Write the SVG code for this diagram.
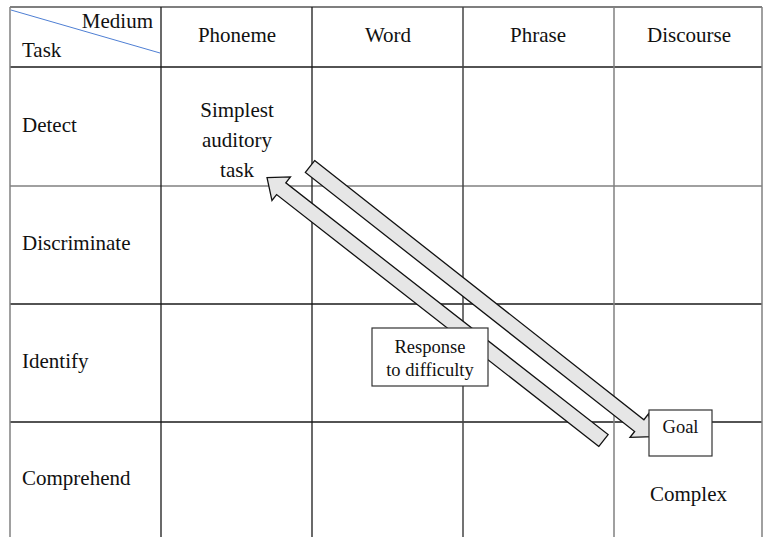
<svg xmlns="http://www.w3.org/2000/svg" width="766" height="537" viewBox="0 0 766 537">
  <style>
    .cell { font-size: 21px; }
    .mid { text-anchor: middle; }
    .box-label { font-size: 18.5px; text-anchor: middle; }
    .grid-dark { stroke: #1a1a1a; stroke-width: 1.3; fill: none; }
    .grid-grey { stroke: #808080; stroke-width: 1.5; fill: none; }
    .arrow { fill: #e6e6e6; stroke: #111; stroke-width: 1.3; stroke-linejoin: miter; }
    .box { fill: #fff; stroke: #333; stroke-width: 1.2; }
  </style>

  <rect width="766" height="537" fill="#fff"/>

  <!-- table grid -->
  <g id="grid">
    <line class="grid-grey" x1="10" y1="7" x2="762" y2="7" style="stroke:#555"/>
    <line class="grid-dark" x1="10" y1="67" x2="762" y2="67"/>
    <line class="grid-grey" x1="10" y1="186" x2="762" y2="186"/>
    <line class="grid-dark" x1="10" y1="304" x2="762" y2="304"/>
    <line class="grid-dark" x1="10" y1="422" x2="762" y2="422"/>
    <line class="grid-grey" x1="10" y1="7" x2="10" y2="537"/>
    <line class="grid-dark" x1="161" y1="7" x2="161" y2="537"/>
    <line class="grid-dark" x1="312" y1="7" x2="312" y2="537"/>
    <line class="grid-grey" x1="463" y1="7" x2="463" y2="537" style="stroke:#444"/>
    <line class="grid-grey" x1="614" y1="7" x2="614" y2="537"/>
    <line class="grid-grey" x1="762" y1="7" x2="762" y2="537"/>
    <!-- corner header split -->
    <line x1="11" y1="10" x2="160" y2="53" stroke="#4f7fd4" stroke-width="1"/>
  </g>

  <g font-family="'Liberation Serif', 'DejaVu Serif', serif" fill="#111">
    <!-- header texts -->
    <g id="header">
      <text class="cell" x="153" y="28" text-anchor="end">Medium</text>
      <text class="cell" x="22" y="57">Task</text>
      <text class="cell mid" x="237" y="42">Phoneme</text>
      <text class="cell mid" x="388" y="42">Word</text>
      <text class="cell mid" x="538" y="42">Phrase</text>
      <text class="cell mid" x="689" y="42">Discourse</text>
    </g>

    <!-- row labels -->
    <g id="rows">
      <text class="cell" x="22" y="132">Detect</text>
      <text class="cell" x="22" y="250">Discriminate</text>
      <text class="cell" x="22" y="368">Identify</text>
      <text class="cell" x="22" y="485">Comprehend</text>
    </g>

    <g id="simplest">
      <text class="cell mid" x="237" y="117">Simplest</text>
      <text class="cell mid" x="237" y="147">auditory</text>
      <text class="cell mid" x="237" y="177">task</text>
    </g>

    <g id="complex">
      <text class="cell" x="650" y="501">Complex</text>
    </g>
  </g>

  <!-- block arrows -->
  <g id="connectors">
    <polygon class="arrow" transform="translate(310,166.5) rotate(38.2)"
             points="0,-7.5 419,-7.5 419,-15 437,0 419,15 419,7.5 0,7.5"/>
    <polygon class="arrow" transform="translate(603.5,440.5) rotate(218)"
             points="0,-7.5 409,-7.5 409,-15 427,0 409,15 409,7.5 0,7.5"/>
  </g>

  <g font-family="'Liberation Serif', 'DejaVu Serif', serif" fill="#111">
    <g id="response">
      <rect class="box" x="372" y="328" width="116" height="58"/>
      <text class="box-label" x="430" y="353">Response</text>
      <text class="box-label" x="430" y="376">to difficulty</text>
    </g>

    <g id="goal">
      <rect class="box" x="649" y="410" width="63" height="46"/>
      <text class="box-label" x="680.5" y="433">Goal</text>
    </g>
  </g>
</svg>
